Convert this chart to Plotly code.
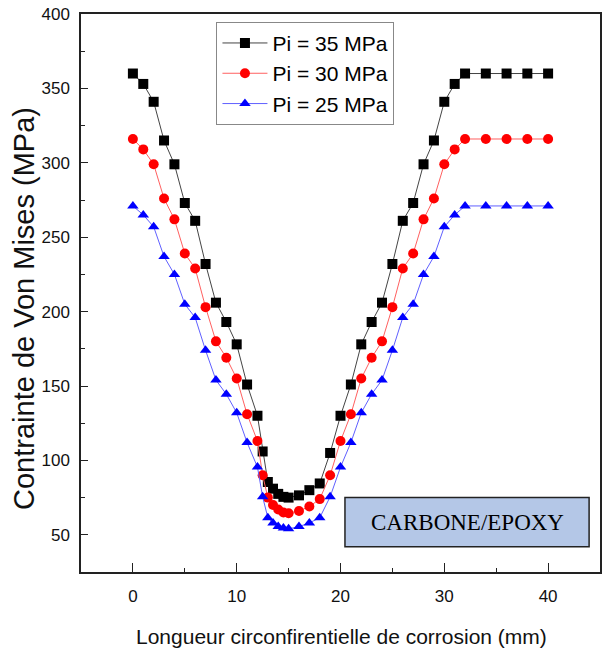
import plotly.graph_objects as go

x_mm = [0, 1, 2, 3, 4, 5, 6, 7, 8, 9, 10, 11, 12, 12.5, 13, 13.5, 14, 14.5, 15,
        16, 17, 18, 19, 20, 21, 22, 23, 24, 25, 26, 27, 28, 29, 30, 31, 32, 34, 36, 38, 40]

pi35 = [360, 353, 341, 315, 299, 273, 261, 232, 206, 193, 178, 151, 130, 106, 85.5, 81, 77.5, 75.5, 75,
        76.5, 80, 84.5, 105, 130, 151, 178, 193, 206, 232, 261, 273, 299, 315, 341, 353, 360, 360, 360, 360, 360]
pi30 = [316, 309, 299, 276, 262, 239, 229, 203, 180, 169, 155, 131, 113, 90, 75, 70, 67, 65, 64.5,
        66, 69, 74, 90, 113, 131, 155, 169, 180, 203, 229, 239, 262, 276, 299, 309, 316, 316, 316, 316, 316]
pi25 = [271, 265, 257, 237, 225, 205, 196, 174, 154, 144.5, 132, 112, 95.5, 75.5, 61.5, 58, 55.5, 54.5, 54,
        55.5, 58, 61.5, 75.5, 95.5, 112, 132, 144.5, 154, 174, 196, 205, 225, 237, 257, 265, 271, 271, 271, 271, 271]

series_names = ["Pi = 35 MPa", "Pi = 30 MPa", "Pi = 25 MPa"]
x_ticks = [0, 10, 20, 30, 40]
y_ticks = [50, 100, 150, 200, 250, 300, 350, 400]

SANS = "Liberation Sans, Arial, sans-serif"

fig = go.Figure()
styles = [
    dict(color="black", line="#444444", symbol="square"),
    dict(color="red", line="#ff6060", symbol="circle"),
    dict(color="blue", line="#6060ff", symbol="triangle-up"),
]
for name, ys, st in zip(series_names, [pi35, pi30, pi25], styles):
    fig.add_trace(go.Scatter(
        x=x_mm, y=ys, name=name, mode="lines+markers",
        line=dict(color=st["line"], width=1),
        marker=dict(symbol=st["symbol"], color=st["color"], size=10,
                    line=dict(width=0)),
    ))

fig.update_layout(
    width=607, height=658,
    margin=dict(l=81, r=5, t=12, b=86),
    paper_bgcolor="white", plot_bgcolor="white",
    showlegend=True,
    legend=dict(x=0.261, y=0.986, xanchor="left", yanchor="top",
                bgcolor="white", bordercolor="#888888", borderwidth=1,
                font=dict(family=SANS, size=21, color="black"),
                itemwidth=45, tracegroupgap=0),
    shapes=[dict(type="rect", xref="paper", yref="paper",
                 x0=0.5086, x1=0.979, y0=0.0452, y1=0.1334,
                 fillcolor="#b4c7e7", line=dict(color="#222222", width=1.5))],
    annotations=[
        dict(text="CARBONE/EPOXY", xref="paper", yref="paper",
             x=(0.5086 + 0.979) / 2, y=(0.0452 + 0.1334) / 2,
             xanchor="center", yanchor="middle", showarrow=False,
             font=dict(family="Liberation Serif, Times New Roman, serif", size=23, color="black")),
        dict(text="Longueur circonfirentielle de corrosion (mm)", xref="paper", yref="paper",
             x=0.502, y=-0.116, xanchor="center", yanchor="middle", showarrow=False,
             font=dict(family=SANS, size=21, color="#111111")),
        dict(text="Contrainte de Von Mises (MPa)", xref="paper", yref="paper",
             x=-0.11, y=0.473, xanchor="center", yanchor="middle", showarrow=False,
             textangle=-90, font=dict(family=SANS, size=29, color="#111111")),
    ],
)

fig.update_xaxes(
    range=[-5, 45], tickvals=x_ticks, ticktext=[str(v) for v in x_ticks],
    ticks="inside", ticklen=9, tickwidth=1, tickcolor="#222222",
    minor=dict(ticks="inside", ticklen=4, dtick=5, tick0=5, tickcolor="#222222", showgrid=False),
    showline=True, linecolor="#222222", linewidth=1.5, mirror=True,
    showgrid=False, zeroline=False, ticklabelstandoff=8,
    tickfont=dict(family=SANS, size=17, color="#111111"),
)
fig.update_yaxes(
    range=[25, 400], tickvals=y_ticks, ticktext=[str(v) for v in y_ticks],
    ticks="inside", ticklen=7, tickwidth=1, tickcolor="#222222",
    minor=dict(ticks="inside", ticklen=4, dtick=25, tick0=25, tickcolor="#222222", showgrid=False),
    showline=True, linecolor="#222222", linewidth=1.5, mirror=True,
    showgrid=False, zeroline=False, ticklabelstandoff=6,
    tickfont=dict(family=SANS, size=17, color="#111111"),
)

fig.write_html("out.html")
